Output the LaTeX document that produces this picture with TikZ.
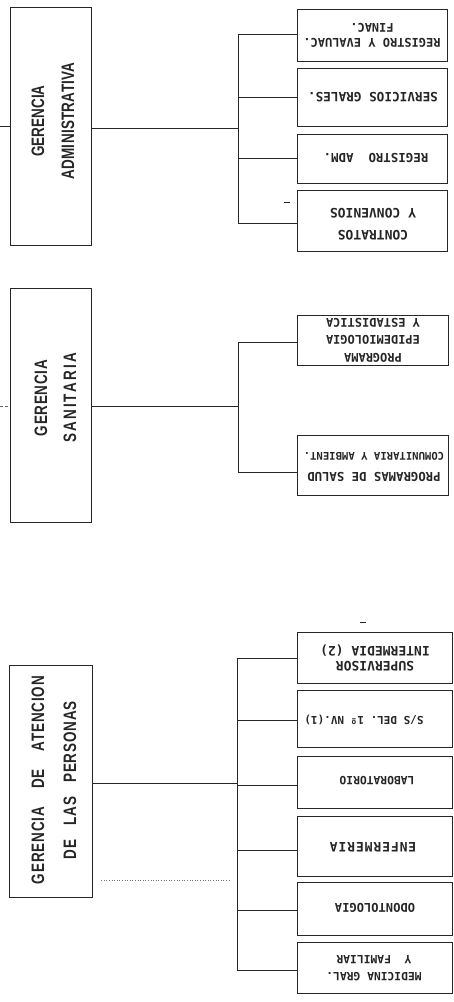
\documentclass[tikz,border=0pt]{standalone}
\usepackage{fontspec}
\newfontfamily\bigf[FakeStretch=0.75]{Liberation Sans}
\newfontfamily\smf{DejaVu Sans Mono}
\newcommand\lsp[2]{{\addfontfeature{LetterSpace=#1}#2}}
\newcommand\fsz[1]{\fontsize{#1}{15}\selectfont}
\tikzset{
  conn/.style={line width=0.9pt, draw=black!85},
  bigbox/.style={draw=black!85, line width=1.1pt, inner sep=0pt, anchor=north west},
  smallbox/.style={draw=black!85, line width=1pt, inner sep=0pt, anchor=north west},
  bigtxt/.style={rotate=90, align=center, inner sep=0pt, text=black!85},
  smtxt/.style={rotate=180, align=center, inner sep=0pt, text=black!85,
    font=\smf\bfseries\fontsize{#1}{15}\selectfont},
  smtxt/.default=12.5,
}
\begin{document}
\begin{tikzpicture}[x=1pt,y=-1pt]
\useasboundingbox (0,0) rectangle (453,1002);

% big boxes
\node[bigbox, minimum width=81pt, minimum height=238pt] (ga) at (10,7) {};
\node[bigbox, minimum width=81pt, minimum height=234pt] (gs) at (10,288) {};
\node[bigbox, minimum width=83pt, minimum height=232pt] (gp) at (9,665) {};

\node[bigtxt, font=\bigf\bfseries\fontsize{18}{30}\selectfont] (gat) at (53,121)
  {\lsp{0}{GERENCIA}\\\lsp{1.6}{ADMINISTRATIVA}};
\node[bigtxt, font=\bigf\bfseries\fontsize{18}{29}\selectfont] (gst) at (55.5,398)
  {\lsp{4}{GERENCIA}\\\lsp{12}{SANITARIA}};
\node[bigtxt, font=\bigf\bfseries\fontsize{18}{32}\selectfont] (gpt) at (54,780)
  {\lsp{4.7}{GERENCIA}\hspace{18pt}\lsp{4.7}{DE}\hspace{18pt}\lsp{4.7}{ATENCION}\\
   \lsp{4.7}{DE}\hspace{14pt}\lsp{4.7}{LAS}\hspace{14pt}\lsp{4.7}{PERSONAS}};

% small boxes: administrativa
\node[smallbox, minimum width=150pt, minimum height=52pt] (A1) at (297,9) {};
\node[smallbox, minimum width=150pt, minimum height=58pt] (A2) at (297,68) {};
\node[smallbox, minimum width=150pt, minimum height=49pt] (A3) at (297,134) {};
\node[smallbox, minimum width=150pt, minimum height=61pt] (A4) at (297,190) {};
\node[smtxt=12] (A1t) at (372,35.5) {REGISTRO Y EVALUAC.\\FINAC.};
\node[smtxt=12.7] (A2t) at (373,97) {SERVICIOS GRALES.};
\node[smtxt=12.4] (A3t) at (376,158) {REGISTRO~~ADM.};
\node[smtxt=13] (A4t) at (373,224) {CONTRATOS\\[7pt]Y CONVENIOS};

% small boxes: sanitaria
\node[smallbox, minimum width=151pt, minimum height=50pt] (S1) at (297,315) {};
\node[smallbox, minimum width=151pt, minimum height=60pt] (S2) at (297,435) {};
\node[smtxt=12] (S1t) at (373,340) {PROGRAMA\\[2.5pt]EPIDEMIOLOGIA\\[2.5pt]Y~ESTADISTICA};
\node[smtxt=12] (S2t) at (374,467) {{\fsz{12.3}PROGRAMAS DE SALUD}\\[5pt]{\fsz{10.6}COMUNITARIA Y AMBIENT.}};

% small boxes: personas
\node[smallbox, minimum width=155pt, minimum height=51pt] (P1) at (297,632) {};
\node[smallbox, minimum width=155pt, minimum height=57pt] (P2) at (297,690) {};
\node[smallbox, minimum width=155pt, minimum height=52pt] (P3) at (297,756) {};
\node[smallbox, minimum width=155pt, minimum height=60pt] (P4) at (297,816) {};
\node[smallbox, minimum width=155pt, minimum height=53pt] (P5) at (297,882) {};
\node[smallbox, minimum width=155pt, minimum height=51pt] (P6) at (297,942) {};
\node[smtxt=13] (P1t) at (375,657.5) {SUPERVISOR\\INTERMEDIA (2)};
\node[smtxt=11] (P2t) at (364,720) {S/S DEL. 1º NV.(1)};
\node[smtxt=11.3] (P3t) at (377,781) {LABORATORIO};
\node[smtxt=13] (P4t) at (373,847) {\lsp{7}{ENFERMERIA}};
\node[smtxt=12.1] (P5t) at (375,908) {ODONTOLOGIA};
\node[smtxt=11.3] (P6t) at (374,968.5) {MEDICINA GRAL.\\[2pt]Y~~FAMILIAR};

% connectors: administrativa
\coordinate (am) at (238,128);
\coordinate (a1) at (238,34);
\coordinate (a2) at (238,97);
\coordinate (a3) at (238,158);
\coordinate (a4) at (238,223);
\coordinate (la) at (0,126);
\draw[conn] (la) -- (la -| ga.west);
\draw[conn] (ga.east |- am) -- (am);
\draw[conn] (a1) -- (a4);
\draw[conn] (a1) -- (a1 -| A1.west);
\draw[conn] (a2) -- (a2 -| A2.west);
\draw[conn] (a3) -- (a3 -| A3.west);
\draw[conn] (a4) -- (a4 -| A4.west);
\draw[conn] (284,202) -- (290,202);

% connectors: sanitaria
\coordinate (sm) at (238,406);
\coordinate (s1) at (238,342);
\coordinate (s2) at (238,472);
\coordinate (ls) at (0,406);
\draw[line width=0.6pt, black!60, dash pattern=on 3pt off 2pt] (ls) -- (ls -| gs.west);
\draw[conn] (gs.east |- sm) -- (sm);
\draw[conn] (s1) -- (s2);
\draw[conn] (s1) -- (s1 -| S1.west);
\draw[conn] (s2) -- (s2 -| S2.west);
\draw[conn] (360,622) -- (366,622);

% connectors: personas
\coordinate (pm) at (237,783);
\coordinate (p1) at (237,658);
\coordinate (p2) at (237,720);
\coordinate (p3) at (237,785);
\coordinate (p4) at (237,850);
\coordinate (p5) at (237,910);
\coordinate (p6) at (237,970);
\coordinate (pd) at (230,880);
\draw[conn] (gp.east |- pm) -- (pm);
\draw[conn] (p1) -- (p6);
\draw[conn] (p1) -- (p1 -| P1.west);
\draw[conn] (p2) -- (p2 -| P2.west);
\draw[conn] (p3) -- (p3 -| P3.west);
\draw[conn] (p4) -- (p4 -| P4.west);
\draw[conn] (p5) -- (p5 -| P5.west);
\draw[conn] (p6) -- (p6 -| P6.west);
\draw[line width=0.6pt, black!55, dotted] ([xshift=8pt]gp.east |- pd) -- (pd);
\end{tikzpicture}
\end{document}
